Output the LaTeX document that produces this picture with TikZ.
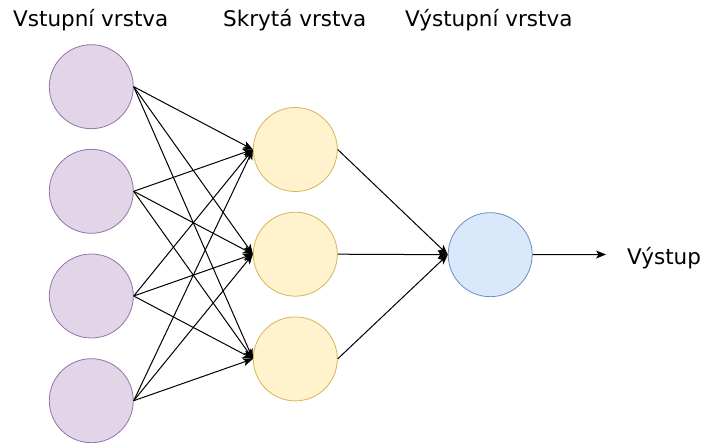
\documentclass[tikz,border=0pt]{standalone}
\usepackage{fontspec}
\setmainfont{DejaVu Sans}
\usetikzlibrary{arrows.meta}
\definecolor{inFill}{HTML}{E1D5E7}
\definecolor{inLine}{HTML}{9673A6}
\definecolor{hidFill}{HTML}{FFF2CC}
\definecolor{hidLine}{HTML}{D6B656}
\definecolor{outFill}{HTML}{DAE8FC}
\definecolor{outLine}{HTML}{6C8EBF}
\tikzset{
  neuron/.style={circle, minimum size=84pt, inner sep=0pt, line width=0.8pt},
  inneuron/.style={neuron, fill=inFill, draw=inLine},
  hidneuron/.style={neuron, fill=hidFill, draw=hidLine},
  outneuron/.style={neuron, fill=outFill, draw=outLine},
  conn/.style={line width=1pt, -{Stealth[length=10pt,width=8pt,inset=2.5pt]}},
  lbl/.style={anchor=base west, inner sep=0pt, font=\fontsize{21.5}{26}\selectfont}
}
\begin{document}
\begin{tikzpicture}[x=1pt,y=-1pt]
\useasboundingbox (0,0) rectangle (704,443);
\node[lbl] (t1) at (13,27) {Vstupní vrstva};
\node[lbl] (t2) at (223,27) {Skrytá vrstva};
\node[lbl] (t3) at (405,27) {Výstupní vrstva};

\node[inneuron] (i1) at (91.3,86.7) {};
\node[inneuron] (i2) at (91.3,191.3) {};
\node[inneuron] (i3) at (91.3,296) {};
\node[inneuron] (i4) at (91.3,400.7) {};

\node[hidneuron] (h1) at (295.3,149.5) {};
\node[hidneuron] (h2) at (295.3,254.2) {};
\node[hidneuron] (h3) at (295.3,358.9) {};

\node[outneuron] (o) at (490.2,254.7) {};

\foreach \i in {1,2,3,4}{
  \foreach \h in {1,2,3}{
    \draw[conn] (i\i.east) -- (h\h.west);
  }
}
\foreach \h in {1,2,3}{
  \draw[conn] (h\h.east) -- (o.west);
}
\coordinate (oend) at (606,254.5);
\draw[conn] (o.east) -- (oend);
\node[lbl] (ot) at (627,265) {Výstup};
\end{tikzpicture}
\end{document}
